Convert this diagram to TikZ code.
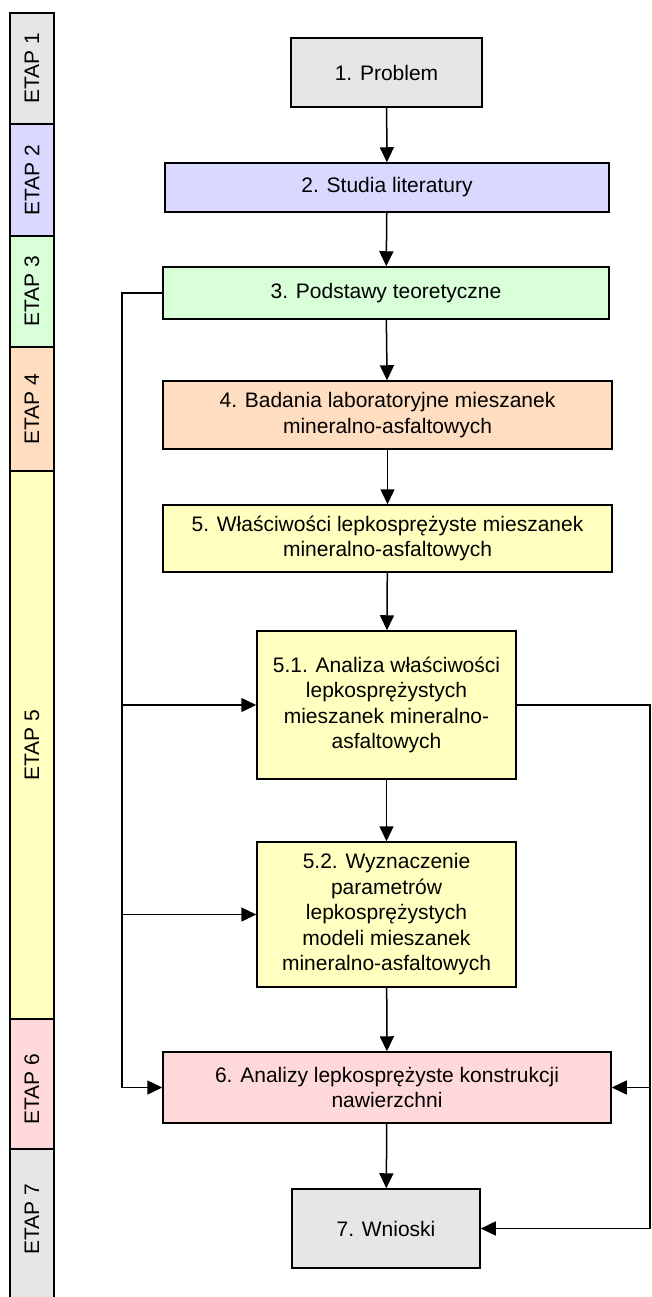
\documentclass[tikz,border=0pt]{standalone}
\usepackage{fontspec}
\setmainfont{Liberation Sans}
\usetikzlibrary{arrows.meta}
\definecolor{cgray}{HTML}{E6E6E6}
\definecolor{cblue}{HTML}{D9D9FF}
\definecolor{cgreen}{HTML}{D9FFD9}
\definecolor{corange}{HTML}{FFDDC0}
\definecolor{cyellow}{HTML}{FFFFC0}
\definecolor{cpink}{HTML}{FFD9D9}
\begin{document}
\begin{tikzpicture}[x=1pt,y=-1pt,
  font=\fontsize{21}{25.5}\selectfont,
  box/.style={draw, line width=1.5pt, align=center, inner sep=0pt},
  etapbox/.style={draw, line width=1.5pt, inner sep=0pt, minimum width=44pt},
  etaplabel/.style={rotate=90},
  conn/.style={line width=1.5pt},
  arr/.style={line width=1.5pt, -{Triangle[length=15pt,width=14pt]}}]
\useasboundingbox (0,0) rectangle (651,1297);
% ETAP bar
\node[etapbox, fill=cgray,   minimum height=111pt] (e1) at (32,68.5) {};
\node[etapbox, fill=cblue,   minimum height=112pt] (e2) at (32,180) {};
\node[etapbox, fill=cgreen,  minimum height=111pt] (e3) at (32,291.5) {};
\node[etapbox, fill=corange, minimum height=124pt] (e4) at (32,409) {};
\node[etapbox, fill=cyellow, minimum height=548pt] (e5) at (32,745) {};
\node[etapbox, fill=cpink,   minimum height=130pt] (e6) at (32,1084) {};
\node[etapbox, fill=cgray,   minimum height=155pt] (e7) at (32,1226.5) {};
\node[etaplabel] (t1) at (32,68.5) {ETAP 1};
\node[etaplabel] (t2) at (32,180) {ETAP 2};
\node[etaplabel] (t3) at (32,291.5) {ETAP 3};
\node[etaplabel] (t4) at (32,409) {ETAP 4};
\node[etaplabel] (t5) at (32,745) {ETAP 5};
\node[etaplabel] (t6) at (32,1089) {ETAP 6};
\node[etaplabel] (t7) at (32,1219) {ETAP 7};
% boxes
\node[box, fill=cgray,   minimum width=191pt, minimum height=69pt] (b1) at (386.5,72.5) {1. Problem};
\node[box, fill=cblue,   minimum width=444pt, minimum height=49pt] (b2) at (387,187.5) {2. Studia literatury};
\node[box, fill=cgreen,  minimum width=446pt, minimum height=52pt] (b3) at (386,293) {3. Podstawy teoretyczne};
\node[box, fill=corange, minimum width=449pt, minimum height=68pt] (b4) at (387.5,415) {4. Badania laboratoryjne mieszanek\\mineralno-asfaltowych};
\node[box, fill=cyellow, minimum width=449pt, minimum height=67pt] (b5) at (387.5,538.5) {5. Właściwości lepkosprężyste mieszanek\\mineralno-asfaltowych};
\node[box, fill=cyellow, minimum width=259pt, minimum height=148pt] (b51) at (386.5,705) {5.1. Analiza właściwości\\lepkosprężystych\\mieszanek mineralno-\\asfaltowych};
\node[box, fill=cyellow, minimum width=259pt, minimum height=145pt] (b52) at (386.5,914.5) {5.2. Wyznaczenie\\parametrów\\lepkosprężystych\\modeli mieszanek\\mineralno-asfaltowych};
\node[box, fill=cpink,   minimum width=448pt, minimum height=71pt] (b6) at (387,1087.5) {6. Analizy lepkosprężyste konstrukcji\\nawierzchni};
\node[box, fill=cgray,   minimum width=188pt, minimum height=79pt] (b7) at (386,1228.5) {7. Wnioski};
% coordinates
\coordinate (L1) at (122,293);
\coordinate (L2) at (122,705);
\coordinate (L3) at (122,914.5);
\coordinate (L4) at (122,1087.5);
\coordinate (R1) at (650,705);
\coordinate (R2) at (650,1087.5);
\coordinate (R3) at (650,1228.5);
% main flow
\draw[arr] (b1) -- (b2);
\draw[arr] (b2) -- (b3);
\draw[arr] (b3) -- (b4);
\draw[arr] (b4) -- (b5);
\draw[arr] (b5) -- (b51);
\draw[arr] (b51) -- (b52);
\draw[arr] (b52) -- (b6);
\draw[arr] (b6) -- (b7);
% left feedback
\draw[conn] (b3.west) -- (L1) -- (L4);
\draw[arr] (L4) -- (b6.west);
\draw[arr] (L2) -- (b51.west);
\draw[arr] (L3) -- (b52.west);
% right feed
\draw[conn] (b51.east) -- (R1) -- (R3);
\draw[arr] (R2) -- (b6.east);
\draw[arr] (R3) -- (b7.east);
\end{tikzpicture}
\end{document}
